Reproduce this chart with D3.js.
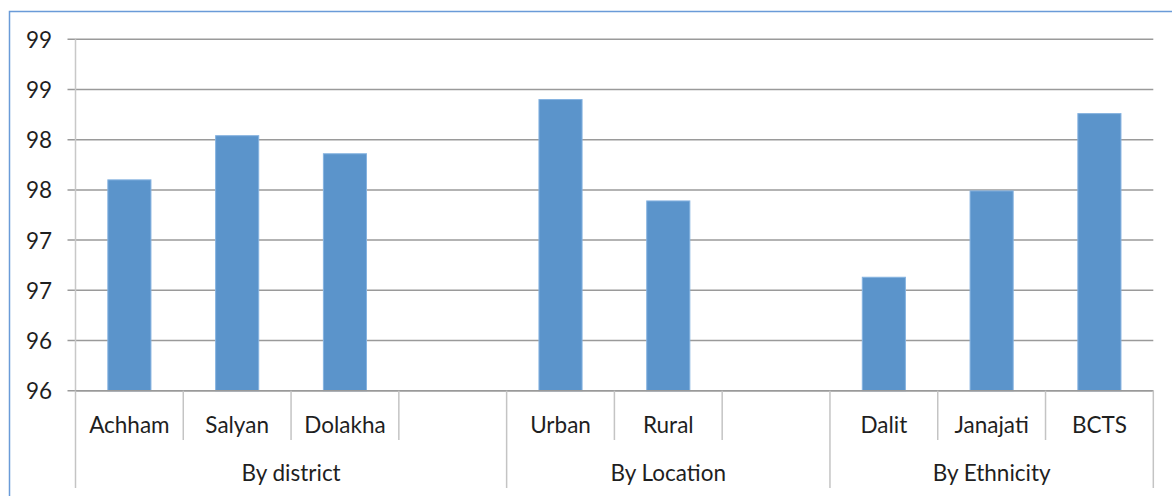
<!DOCTYPE html>
<html>
<head>
<meta charset="utf-8">
<script src="https://cdn.jsdelivr.net/npm/d3@7"></script>
<style>
  html, body { margin: 0; padding: 0; background: #fff; }
  svg { display: block; }
  text { font-family: Lato, "Open Sans", sans-serif; fill: #1f1f1f; }
</style>
</head>
<body>
<svg id="chart" width="1172" height="496"></svg>
<script>
// Category slots (blank slots separate the groups)
const categories = ["Achham", "Salyan", "Dolakha", "", "Urban", "Rural", "", "Dalit", "Janajati", "BCTS"];
const values = [97.60, 98.04, 97.86, null, 98.40, 97.39, null, 96.63, 97.49, 98.26];
const groups = [
  { name: "By district", from: 0, to: 4 },
  { name: "By Location", from: 4, to: 7 },
  { name: "By Ethnicity", from: 7, to: 10 }
];
const yTicks = [95.5, 96, 96.5, 97, 97.5, 98, 98.5, 99];

const svg = d3.select("#chart");
const plotLeft = 75.5, plotRight = 1153.3, plotTop = 39.3, plotBottom = 390.7;
const fontSize = 22.5;

// chart frame
svg.append("rect")
  .attr("x", 9.5).attr("y", 11.5)
  .attr("width", 1180).attr("height", 500)
  .attr("fill", "none").attr("stroke", "#6a9bd8").attr("stroke-width", 1.5);

const x = d3.scaleBand().domain(d3.range(categories.length)).range([plotLeft, plotRight]).paddingInner(0).paddingOuter(0);
const y = d3.scaleLinear().domain([95.5, 99]).range([plotBottom, plotTop]);
const slot = x.bandwidth();
const barW = slot / 2.5;

// horizontal gridlines + ticks
svg.append("g").selectAll("line").data(yTicks).join("line")
  .attr("x1", plotLeft - 8).attr("x2", plotRight)
  .attr("y1", d => y(d)).attr("y2", d => y(d))
  .attr("stroke", "#9a9a9a").attr("stroke-width", 1.5);

// y labels (whole-number format)
svg.append("g").selectAll("text").data(yTicks).join("text")
  .attr("x", 52).attr("y", d => y(d))
  .attr("text-anchor", "end").attr("dominant-baseline", "central")
  .attr("font-size", fontSize)
  .text(d => d3.format(".0f")(Math.round(d)));

// value axis line
svg.append("line")
  .attr("x1", plotLeft).attr("x2", plotLeft).attr("y1", plotTop).attr("y2", plotBottom)
  .attr("stroke", "#c8c8c8").attr("stroke-width", 1.5);

// bars
svg.append("g").selectAll("rect")
  .data(values.map((v, i) => ({ v, i })).filter(d => d.v != null))
  .join("rect")
  .attr("x", d => x(d.i) + (slot - barW) / 2)
  .attr("width", barW)
  .attr("y", d => y(d.v))
  .attr("height", d => y(95.5) - y(d.v))
  .attr("fill", "#5b94cb")
  .attr("stroke", "#86b3e0").attr("stroke-width", 1);

// category axis baseline
svg.append("line")
  .attr("x1", plotLeft).attr("x2", plotRight).attr("y1", plotBottom).attr("y2", plotBottom)
  .attr("stroke", "#9a9a9a").attr("stroke-width", 1.5);

// category separators
const bounds = d3.range(categories.length + 1);
const groupEdges = new Set(groups.flatMap(g => [g.from, g.to]));
svg.append("g").selectAll("line").data(bounds).join("line")
  .attr("x1", i => i === categories.length ? plotRight : x(i))
  .attr("x2", i => i === categories.length ? plotRight : x(i))
  .attr("y1", plotBottom)
  .attr("y2", i => groupEdges.has(i) ? 488 : 440)
  .attr("stroke", "#c4c4c4").attr("stroke-width", 1.5);

// category labels
svg.append("g").selectAll("text").data(categories).join("text")
  .attr("x", (d, i) => x(i) + slot / 2)
  .attr("y", 424)
  .attr("text-anchor", "middle").attr("dominant-baseline", "central")
  .attr("font-size", fontSize)
  .text(d => d);

// group labels
svg.append("g").selectAll("text").data(groups).join("text")
  .attr("x", g => (x(g.from) + (g.to === categories.length ? plotRight : x(g.to))) / 2)
  .attr("y", 472)
  .attr("text-anchor", "middle").attr("dominant-baseline", "central")
  .attr("font-size", fontSize)
  .text(g => g.name);
</script>
</body>
</html>
